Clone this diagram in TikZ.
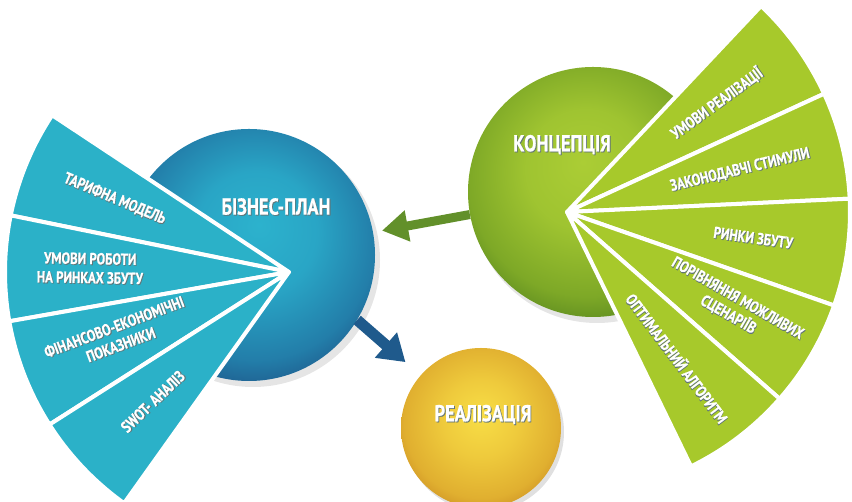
\documentclass[tikz,border=0pt]{standalone}
\usepackage{fontspec}
\newfontfamily\condfont[FakeStretch=0.8,FakeBold=0.6]{PT Sans}
\usetikzlibrary{arrows.meta}

\definecolor{bizhi}{HTML}{2CB2CD}
\definecolor{bizmid}{HTML}{2592BA}
\definecolor{bizdk}{HTML}{1D4E82}
\definecolor{konhi}{HTML}{ABCD35}
\definecolor{konmid}{HTML}{8DB62A}
\definecolor{kondk}{HTML}{4F7F1D}
\definecolor{realhi}{HTML}{F8DE46}
\definecolor{realmid}{HTML}{E7BA34}
\definecolor{realdk}{HTML}{C5841F}
\definecolor{bizfan}{HTML}{2BB1C8}
\definecolor{konfan}{HTML}{A7C92B}
\definecolor{arrgreen}{HTML}{62902A}
\definecolor{arrblue}{HTML}{1F5A8C}
\definecolor{txshadow}{HTML}{0E2A30}

\pgfdeclareradialshading{bizsh}{\pgfpoint{2bp}{6bp}}{color(0bp)=(bizhi); color(12bp)=(bizhi!60!bizmid); color(24bp)=(bizmid!70!bizdk); color(32bp)=(bizdk); color(50bp)=(bizdk)}
\pgfdeclareradialshading{konsh}{\pgfpoint{-2bp}{6bp}}{color(0bp)=(konhi); color(12bp)=(konhi!60!konmid); color(24bp)=(konmid!75!kondk); color(32bp)=(kondk); color(50bp)=(kondk)}
\pgfdeclareradialshading{realsh}{\pgfpoint{0bp}{4bp}}{color(0bp)=(realhi); color(12bp)=(realhi!45!realmid); color(24bp)=(realmid!80!realdk); color(32bp)=(realdk); color(50bp)=(realdk)}

% white text with a dark shadow
\newcommand\txsh[1]{\leavevmode\rlap{\color{txshadow!65}\kern0.9pt\raisebox{-0.9pt}{#1}}#1}

\tikzset{
  sphere/.style={circle,inner sep=0pt,shade},
  wedge/.style={draw=white,line width=4pt,line join=round},
  ttl/.style={text=white,inner sep=0pt,font=\condfont\bfseries\fontsize{23}{27}\selectfont},
  wlab/.style={text=white,inner sep=0pt,align=center,font=\condfont\bfseries\fontsize{16}{19}\selectfont},
  garrow/.style={draw=arrgreen,line width=9pt,-{Triangle[length=26pt,width=30pt]},shorten >=9pt},
  barrow/.style={draw=arrblue,line width=11pt,-{Triangle[length=26pt,width=32pt]},shorten >=20pt}
}

\begin{document}
\begin{tikzpicture}[x=1pt,y=1pt]
  \useasboundingbox (0,0) rectangle (852,502);

  % shadows under the spheres
  \fill[black!10] (253,242) circle (127);
  \fill[black!10] (597,305) circle (126);
  \fill[black!12] (484,70) circle (80);

  % spheres
  \node[sphere,shading=bizsh,minimum size=252pt] (biz) at (249,247) {};
  \node[sphere,shading=konsh,minimum size=250pt] (konc) at (593,310) {};
  \node[sphere,shading=realsh,minimum size=160pt] (real) at (481,74) {};

  % business plan fan
  \coordinate (bapex) at (289,230);
  \path[wedge,fill=bizfan] (bapex) -- ++(146.5:284) arc[start angle=146.5,end angle=168.5,radius=284] -- cycle;
  \path[wedge,fill=bizfan] (bapex) -- ++(168.5:284) arc[start angle=168.5,end angle=190,radius=284] -- cycle;
  \path[wedge,fill=bizfan] (bapex) -- ++(190:284) arc[start angle=190,end angle=212.5,radius=284] -- cycle;
  \path[wedge,fill=bizfan] (bapex) -- ++(212.5:284) arc[start angle=212.5,end angle=234.5,radius=284] -- cycle;

  % concept fan
  \coordinate (kapex) at (567,290);
  \path[wedge,fill=konfan] (kapex) -- ++(46.7:283) arc[start angle=46.7,end angle=24.7,radius=283] -- cycle;
  \path[wedge,fill=konfan] (kapex) -- ++(24.7:283) arc[start angle=24.7,end angle=2.7,radius=283] -- cycle;
  \path[wedge,fill=konfan] (kapex) -- ++(2.7:283) arc[start angle=2.7,end angle=-19.3,radius=283] -- cycle;
  \path[wedge,fill=konfan] (kapex) -- ++(-19.3:283) arc[start angle=-19.3,end angle=-41.3,radius=283] -- cycle;
  \path[wedge,fill=konfan] (kapex) -- ++(-41.3:283) arc[start angle=-41.3,end angle=-64,radius=283] -- cycle;

  % arrows between the spheres
  \draw[garrow] (konc) -- (biz);
  \draw[barrow] (biz.-31) -- (real);

  % sphere titles
  \node[ttl] (biztxt) at (276,295) {\txsh{БІЗНЕС-ПЛАН}};
  \node[ttl] (kontxt) at (562,357) {\txsh{КОНЦЕПЦІЯ}};
  \node[ttl] (realtxt) at (483,87) {\txsh{РЕАЛІЗАЦІЯ}};

  % labels of the business plan fan
  \node[wlab,rotate=-22.7] (tarif) at ([shift={(157.3:189)}]bapex) {\txsh{ТАРИФНА МОДЕЛЬ}};
  \node[wlab,rotate=-1] (umrob) at ([shift={(179:199)}]bapex) {\txsh{УМОВИ РОБОТИ}\\\txsh{НА РИНКАХ ЗБУТУ}};
  \node[wlab,rotate=20.5] (finek) at ([shift={(200.5:183)}]bapex) {\txsh{ФІНАНСОВО-ЕКОНОМІЧНІ}\\\txsh{ПОКАЗНИКИ}};
  \node[wlab,rotate=43.7] (swot) at ([shift={(223.7:188)}]bapex) {\txsh{SWOT- АНАЛІЗ}};

  % labels of the concept fan
  \node[wlab,rotate=36] (umreal) at ([shift={(36:185)}]kapex) {\txsh{УМОВИ РЕАЛІЗАЦІЇ}};
  \node[wlab,rotate=13.6] (zakon) at ([shift={(13.6:178)}]kapex) {\txsh{ЗАКОНОДАВЧІ СТИМУЛИ}};
  \node[wlab,rotate=-8] (rynky) at ([shift={(-8:188)}]kapex) {\txsh{РИНКИ ЗБУТУ}};
  \node[wlab,rotate=-29.8] (porivn) at ([shift={(-29.8:191)}]kapex) {\txsh{ПОРІВНЯННЯ МОЖЛИВИХ}\\\txsh{СЦЕНАРІЇВ}};
  \node[wlab,rotate=-53] (optalg) at ([shift={(-53:183)}]kapex) {\txsh{ОПТИМАЛЬНИЙ АЛГОРИТМ}};
\end{tikzpicture}
\end{document}
